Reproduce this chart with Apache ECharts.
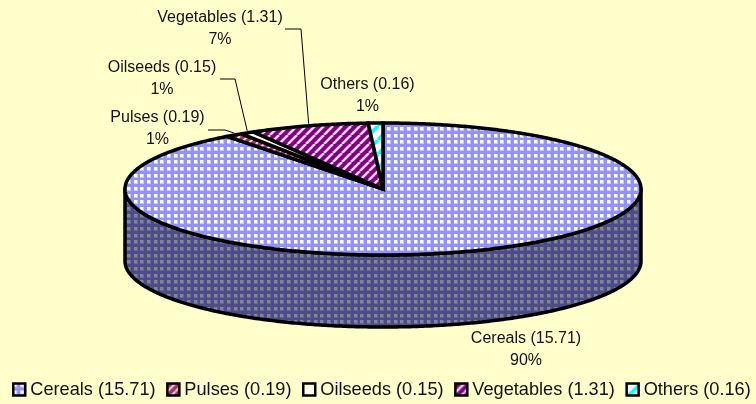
<!DOCTYPE html>
<html><head><meta charset="utf-8">
<style>html,body{margin:0;padding:0;background:#FFFFCC}#c{width:756px;height:404px}</style>
<script src="https://cdn.jsdelivr.net/npm/echarts@6/dist/echarts.min.js"></script>
</head><body><div id="c"></div>
<script>
const categories = ['Cereals','Pulses','Oilseeds','Vegetables','Others'];
const values = [15.71,0.19,0.15,1.31,0.16];
const percentLabels = ['90%','1%','1%','7%','1%'];

function mkPat(size, draw){
  const c=document.createElement('canvas');c.width=size;c.height=size;
  const g=c.getContext('2d');draw(g,size);
  return {image:c,repeat:'repeat'};
}
function grid(bg,halo,fg){return mkPat(20,(g)=>{g.fillStyle=bg;g.fillRect(0,0,20,20);
  const p=[0,7,14];
  g.fillStyle=halo;p.forEach(a=>p.forEach(b=>g.fillRect(a,b,4,4)));
  g.fillStyle=fg;p.forEach(a=>p.forEach(b=>g.fillRect(a,b,3,3)));});}
function diag(size,bg,fg,w){return mkPat(size,(g,s)=>{g.fillStyle=bg;g.fillRect(0,0,s,s);g.strokeStyle=fg;g.lineWidth=w;
  for(let i=-s;i<=2*s;i+=s){g.beginPath();g.moveTo(i,s);g.lineTo(i+s,0);g.stroke();}});}
const fills = [grid('#9292F8','#C8C8FF','#FFFFFF'),diag(8,'#993366','#F0D8E0',2),diag(8,'#FFFFFF','#FFFFCC',3),diag(9,'#800080','#EED4EE',2.6),diag(14,'#FFFFFF','#00FFFF',3.5)];
const sideFill = grid('#4C4C86','#68688F','#84849C');

const labelPos = [[526,339],[157.5,118],[162,68],[220,18],[367.5,85]];
const leaders = [null,[[208,130],[225,130]],[[220,79],[235,79]],[[285,29],[301,29]],null];
const geo = {cx:383,cy:189,rx:258,ry:66,depth:72};
const total = values.reduce((a,b)=>a+b,0);
const starts=[];let acc=0;values.forEach(v=>{starts.push(acc/total*Math.PI*2);acc+=v;});
const pt=(a,dy=0)=>[geo.cx+geo.rx*Math.sin(a),geo.cy-geo.ry*Math.cos(a)+dy];
function arcPts(a0,a1,dy){const n=Math.max(4,Math.ceil((a1-a0)/0.01));const r=[];for(let i=0;i<=n;i++){r.push(pt(a0+(a1-a0)*i/n,dy));}return r;}

function renderItem(params,api){
  const i=params.seriesIndex;
  const a0=starts[i], a1=a0+api.value(0)/total*Math.PI*2;
  const children=[];
  const fa0=Math.max(a0,Math.PI/2), fa1=Math.min(a1,Math.PI*1.5);
  if(fa1>fa0){
    const top=arcPts(fa0,fa1,0), bot=arcPts(fa0,fa1,geo.depth).reverse();
    children.push({type:'polygon',shape:{points:top.concat(bot)},style:{fill:sideFill,stroke:'#000',lineWidth:3.5,lineJoin:'round'}});
  }
  const sector=[[geo.cx,geo.cy]].concat(arcPts(a0,a1,0));
  children.push({type:'polygon',shape:{points:sector},style:{fill:fills[i],stroke:'#000',lineWidth:3.5,lineJoin:'miter',miterLimit:3}});
  return {type:'group',children};
}
function renderLabels(params,api){
  const children=[];
  categories.forEach((n,i)=>{
    const a=starts[i]+values[i]/total*Math.PI;
    const [x,y]=labelPos[i];
    children.push({type:'text',style:{x,y,text:n+' ('+values[i].toFixed(2)+')',font:'16px "Liberation Sans"',fill:'#111',align:'center',verticalAlign:'middle'}});
    children.push({type:'text',style:{x,y:y+21.5,text:percentLabels[i],font:'16px "Liberation Sans"',fill:'#111',align:'center',verticalAlign:'middle'}});
    if(leaders[i]){
      children.push({type:'polyline',shape:{points:leaders[i].concat([pt(a,-2)])},style:{fill:'none',stroke:'#000',lineWidth:1}});
    }
  });
  return {type:'group',children};
}
const series=categories.map((n,i)=>({
  name:n+' ('+values[i].toFixed(2)+')',type:'custom',coordinateSystem:'none',silent:true,animation:false,
  z:i===0?2:3,clip:false,
  renderItem,data:[[values[i]]],itemStyle:{color:fills[i]}
}));
series.push({type:'custom',coordinateSystem:'none',silent:true,animation:false,z:5,renderItem:renderLabels,data:[[0]]});
const chart=echarts.init(document.getElementById('c'),null,{renderer:'canvas'});
chart.setOption({
  backgroundColor:'#FFFFCC',animation:false,
  legend:{left:12,top:380.5,width:760,padding:0,itemWidth:12,itemHeight:12,itemGap:10.5,icon:'rect',selectedMode:false,
    textStyle:{fontFamily:'Liberation Sans',fontSize:18.2,color:'#111'},
    data:categories.map((n,i)=>({name:n+' ('+values[i].toFixed(2)+')',icon:'rect',itemStyle:{color:fills[i],borderColor:'#000',borderWidth:2.5}}))},
  series
});
</script></body></html>
